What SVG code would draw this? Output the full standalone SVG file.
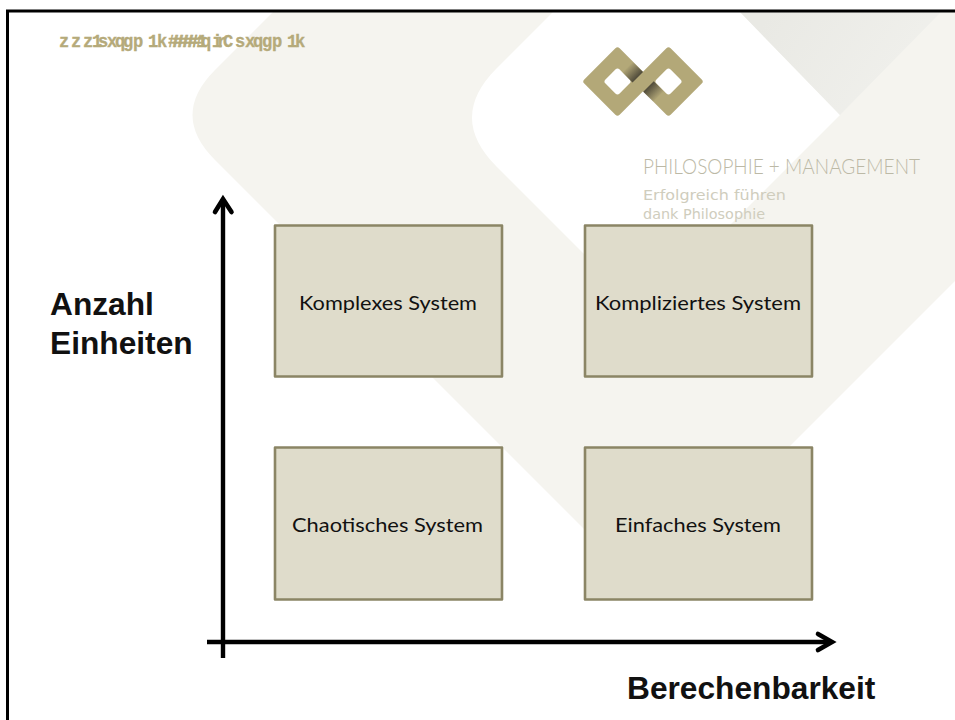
<svg xmlns="http://www.w3.org/2000/svg" width="955" height="720" viewBox="0 0 955 720">
  <style>
    .box { fill: #dfdccb; stroke: #8b8565; stroke-width: 2.6; stroke-linejoin: round; }
    .boxlabel { font-family: Lato, "Open Sans", sans-serif; font-size: 20px; fill: #111; }
    .axislabel { font-family: "Liberation Sans", Arial, sans-serif; font-size: 31.7px; font-weight: bold; fill: #111; }
    .axis { fill: none; stroke: #000; stroke-width: 4.4; }
    .head { fill: none; stroke: #000; stroke-width: 4.6; stroke-linecap: round; stroke-linejoin: miter; }
    .brand { font-family: Lato, "Liberation Sans", sans-serif; font-weight: 300; fill: #bcb9a6; }
    .tag { font-family: "DejaVu Sans", sans-serif; font-weight: normal; fill: #cfcdbd; }
    .url { font-family: "Liberation Mono", monospace; font-weight: bold; font-size: 19px; fill: #b5aa7a; stroke: #b5aa7a; stroke-width: 0.35; }
  </style>
  <defs>
    <linearGradient id="shadeA" gradientUnits="userSpaceOnUse" x1="637.5" y1="77.5" x2="627" y2="67">
      <stop offset="0" stop-color="#4f4a3a"/>
      <stop offset="1" stop-color="#4f4a3a" stop-opacity="0"/>
    </linearGradient>
    <linearGradient id="shadeB" gradientUnits="userSpaceOnUse" x1="648.5" y1="86.5" x2="659" y2="97">
      <stop offset="0" stop-color="#4f4a3a"/>
      <stop offset="1" stop-color="#4f4a3a" stop-opacity="0"/>
    </linearGradient>
    <linearGradient id="greyTri" gradientUnits="userSpaceOnUse" x1="770" y1="12" x2="900" y2="100">
      <stop offset="0" stop-color="#e9e9e4"/>
      <stop offset="1" stop-color="#f0f0ec"/>
    </linearGradient>
  </defs>

  <rect width="955" height="720" fill="#fff"/>

  <g id="background">
    <path d="M273 12 L955 12 L955 281 L645.5 590.5 L215 160 Q170 115 215 70 Z" fill="#f5f4ef"/>
    <path d="M553 12 L740 12 L840 115 L642.5 312.5 L496.5 166.5 Q447.5 117.5 496.5 68.5 Z" fill="#fff"/>
    <path d="M740 12 L941 12 L840 115 Z" fill="url(#greyTri)"/>
  </g>

  <rect id="frame" x="7.5" y="11" width="952" height="715" fill="none" stroke="#000" stroke-width="3"/>

  <g id="logo">
    <rect x="592.5" y="56.5" width="50" height="50" rx="3" transform="rotate(45 617.5 81.5)" fill="#b3a878"/>
    <rect x="643.5" y="56.5" width="50" height="50" rx="3" transform="rotate(45 668.5 81.5)" fill="#b3a878"/>
    <rect x="607.5" y="71.5" width="20" height="20" rx="3" transform="rotate(45 617.5 81.5)" fill="#fff"/>
    <rect x="658.5" y="71.5" width="20" height="20" rx="3" transform="rotate(45 668.5 81.5)" fill="#fff"/>
    <polygon points="643,72 632.5,82.5 622.5,72.5 633,62" fill="url(#shadeA)"/>
    <polygon points="643.25,91.75 653.75,81.25 663.75,91.25 653.25,101.75" fill="url(#shadeB)"/>
  </g>

  <g id="brand">
    <text class="brand" x="643" y="174" font-size="22" textLength="277" lengthAdjust="spacingAndGlyphs">PHILOSOPHIE + MANAGEMENT</text>
    <text class="tag" x="643" y="200" font-size="13.5" textLength="143" lengthAdjust="spacingAndGlyphs">Erfolgreich führen</text>
    <text class="tag" x="643" y="219" font-size="13.5" textLength="122" lengthAdjust="spacingAndGlyphs">dank Philosophie</text>
  </g>

  <text id="url" class="url" transform="scale(0.9 1)" y="47.5" x="65.6 78.9 92.2 102.2 108.9 118.9 127.8 136.7 147.8 164.4 174.4 186.7 192.2 197.8 203.3 208.9 213.3 218.9 223.3 235.6 241.1 247.8 261.1 272.2 281.1 291.1 302.2 318.9 327.8">zzz1sxqgp1k######1qirCsxqgp1k</text>

  <g id="connectors">
    <line class="axis" x1="223" y1="658" x2="223" y2="199"/>
    <polyline class="head" points="215,212 223,199 231.5,212"/>
    <line class="axis" x1="207" y1="642" x2="831" y2="642"/>
    <polyline class="head" points="818,634 832,642 818,650"/>
  </g>

  <g id="node-komplex">
    <rect class="box" x="275" y="225.5" width="227" height="151"/>
    <text class="boxlabel" x="299" y="310" textLength="178" lengthAdjust="spacingAndGlyphs">Komplexes System</text>
  </g>
  <g id="node-kompliziert">
    <rect class="box" x="585" y="225.5" width="227" height="151"/>
    <text class="boxlabel" x="595" y="310" textLength="206" lengthAdjust="spacingAndGlyphs">Kompliziertes System</text>
  </g>
  <g id="node-chaotisch">
    <rect class="box" x="275" y="447.5" width="227" height="152"/>
    <text class="boxlabel" x="292" y="532" textLength="191" lengthAdjust="spacingAndGlyphs">Chaotisches System</text>
  </g>
  <g id="node-einfach">
    <rect class="box" x="585" y="447.5" width="227" height="152"/>
    <text class="boxlabel" x="615" y="532" textLength="166" lengthAdjust="spacingAndGlyphs">Einfaches System</text>
  </g>

  <g id="axis-labels">
    <text class="axislabel" x="50" y="315">Anzahl</text>
    <text class="axislabel" x="50" y="354">Einheiten</text>
    <text class="axislabel" x="627" y="699">Berechenbarkeit</text>
  </g>
</svg>
